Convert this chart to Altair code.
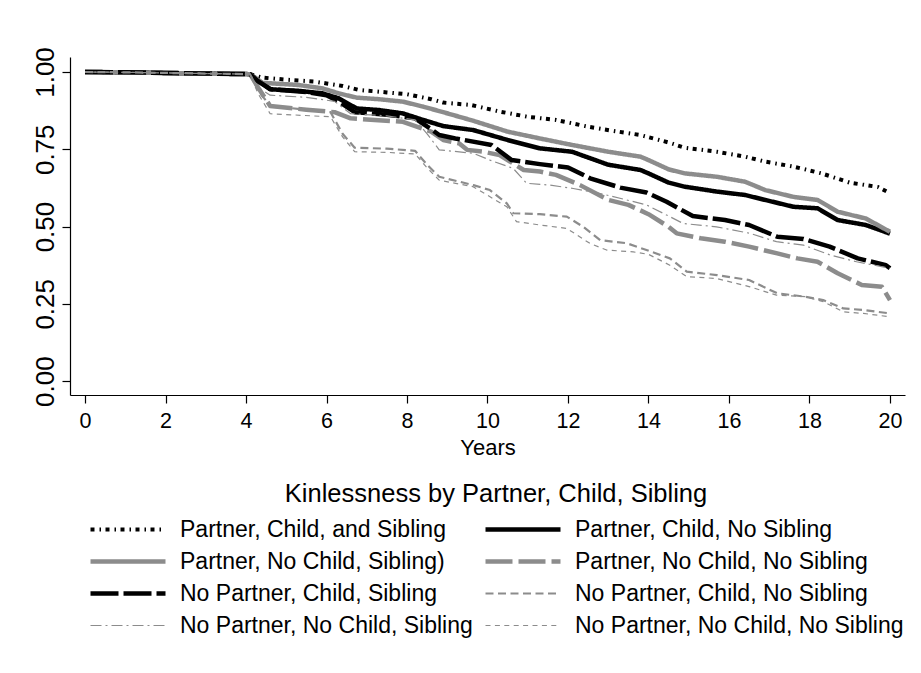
import altair as alt
import pandas as pd

FONT = "Liberation Sans"

series = [
    "Partner, Child, and Sibling",
    "Partner, Child, No Sibling",
    "Partner, No Child, Sibling)",
    "Partner, No Child, No Sibling",
    "No Partner, Child, Sibling",
    "No Partner, Child, No Sibling",
    "No Partner, No Child, Sibling",
    "No Partner, No Child, No Sibling",
]

pcs_x = [0, 1, 2, 3, 4.1, 4.4, 5.0, 5.7, 6.0, 6.4, 6.8, 7.5, 8.0, 8.3, 8.6, 8.9, 9.6, 10.3, 11.0, 11.7, 12.5, 13.1, 13.8, 14.5, 14.9, 15.7, 16.4, 16.9, 17.6, 18.3, 19.0, 19.7, 20.0]
pcs_y = [1.0, 0.999, 0.997, 0.995, 0.993, 0.982, 0.975, 0.969, 0.963, 0.955, 0.942, 0.934, 0.928, 0.920, 0.912, 0.901, 0.893, 0.872, 0.855, 0.845, 0.823, 0.810, 0.796, 0.772, 0.755, 0.742, 0.726, 0.710, 0.694, 0.672, 0.642, 0.628, 0.608]

pcns_x = [0, 1, 2, 3, 4.1, 4.3, 4.6, 5.3, 5.9, 6.3, 6.75, 7.3, 7.9, 8.4, 8.9, 9.65, 10.5, 11.3, 12.1, 13.0, 13.8, 14.0, 14.5, 14.9, 15.7, 16.4, 16.9, 17.6, 18.2, 18.7, 19.4, 20.0]
pcns_y = [1.0, 0.999, 0.997, 0.995, 0.993, 0.974, 0.944, 0.939, 0.931, 0.915, 0.882, 0.877, 0.866, 0.845, 0.825, 0.812, 0.780, 0.753, 0.742, 0.700, 0.683, 0.672, 0.642, 0.629, 0.613, 0.602, 0.586, 0.564, 0.559, 0.521, 0.505, 0.477]

pncs_x = [0, 1, 2, 3, 4.1, 4.4, 5.3, 5.9, 6.3, 6.75, 7.3, 7.9, 8.4, 8.9, 9.65, 10.5, 11.3, 12.1, 13.0, 13.8, 14.0, 14.5, 14.9, 15.7, 16.4, 16.9, 17.6, 18.2, 18.7, 19.4, 20.0]
pncs_y = [1.0, 0.999, 0.997, 0.995, 0.993, 0.965, 0.958, 0.947, 0.931, 0.917, 0.912, 0.904, 0.888, 0.870, 0.842, 0.807, 0.785, 0.764, 0.742, 0.726, 0.715, 0.685, 0.672, 0.661, 0.645, 0.618, 0.596, 0.586, 0.548, 0.526, 0.483]

pncns_x = [0, 1, 2, 3, 4.1, 4.3, 4.6, 5.5, 6.2, 6.6, 7.9, 8.6, 8.9, 9.3, 9.5, 9.9, 10.3, 10.9, 11.3, 11.7, 12.3, 13.0, 13.5, 14.0, 14.5, 14.7, 15.3, 15.9, 16.5, 17.2, 17.7, 18.2, 18.7, 19.3, 19.8, 20.0]
pncns_y = [1.0, 0.999, 0.997, 0.995, 0.993, 0.95, 0.89, 0.878, 0.87, 0.85, 0.839, 0.807, 0.78, 0.769, 0.748, 0.742, 0.731, 0.683, 0.678, 0.667, 0.634, 0.586, 0.570, 0.540, 0.499, 0.478, 0.462, 0.451, 0.435, 0.413, 0.397, 0.386, 0.349, 0.311, 0.305, 0.262]

npcs_x = [0, 1, 2, 3, 4.1, 4.3, 4.6, 5.5, 6.0, 6.3, 6.7, 7.5, 8.2, 8.6, 8.8, 9.2, 10.1, 10.6, 11.3, 12.0, 12.55, 13.3, 13.95, 14.45, 15.1, 15.9, 16.5, 17.2, 17.85, 18.5, 19.2, 19.9, 20.0]
npcs_y = [1.0, 0.999, 0.997, 0.995, 0.993, 0.97, 0.945, 0.935, 0.925, 0.905, 0.87, 0.862, 0.85, 0.815, 0.796, 0.785, 0.764, 0.715, 0.702, 0.691, 0.656, 0.626, 0.610, 0.580, 0.534, 0.521, 0.505, 0.467, 0.460, 0.435, 0.397, 0.375, 0.365]

npcns_x = [0, 1, 2, 3, 4.1, 4.3, 4.6, 5.5, 6.1, 6.4, 6.7, 7.5, 8.2, 8.5, 8.8, 9.65, 10.06, 10.48, 10.64, 11.3, 11.97, 12.38, 12.8, 13.46, 13.95, 14.53, 14.95, 15.7, 16.5, 17.2, 17.9, 18.34, 18.84, 19.34, 20.0]
npcns_y = [1.0, 0.999, 0.997, 0.995, 0.993, 0.94, 0.89, 0.878, 0.87, 0.80, 0.755, 0.752, 0.745, 0.70, 0.661, 0.634, 0.618, 0.575, 0.543, 0.540, 0.532, 0.499, 0.456, 0.446, 0.424, 0.397, 0.354, 0.343, 0.327, 0.284, 0.273, 0.262, 0.235, 0.230, 0.219]

npncs_x = [0, 1, 2, 3, 4.1, 4.3, 4.6, 5.5, 6.2, 6.6, 7.5, 8.2, 8.5, 8.8, 9.65, 10.06, 10.64, 10.97, 11.55, 12.13, 12.8, 13.46, 13.95, 14.53, 14.86, 15.69, 16.52, 17.18, 17.85, 18.51, 19.17, 20.0]
npncs_y = [1.0, 0.999, 0.997, 0.995, 0.993, 0.95, 0.925, 0.918, 0.905, 0.865, 0.858, 0.845, 0.80, 0.748, 0.737, 0.715, 0.688, 0.640, 0.634, 0.623, 0.607, 0.586, 0.570, 0.532, 0.510, 0.499, 0.478, 0.451, 0.440, 0.408, 0.386, 0.365]

npncns_x = [0, 1, 2, 3, 4.1, 4.3, 4.6, 6.1, 6.4, 6.7, 7.5, 8.2, 8.5, 8.8, 9.64, 10.48, 10.72, 11.3, 11.97, 12.55, 12.96, 13.62, 14.0, 14.53, 14.95, 15.69, 16.52, 17.18, 17.9, 18.34, 18.84, 19.34, 20.0]
npncns_y = [1.0, 0.999, 0.997, 0.995, 0.993, 0.93, 0.865, 0.855, 0.79, 0.742, 0.74, 0.735, 0.69, 0.650, 0.629, 0.564, 0.516, 0.505, 0.494, 0.445, 0.424, 0.418, 0.41, 0.375, 0.338, 0.332, 0.305, 0.278, 0.273, 0.257, 0.224, 0.219, 0.208]

x_ticks = [0, 2, 4, 6, 8, 10, 12, 14, 16, 18, 20]
y_ticks = [0, 0.25, 0.5, 0.75, 1.0]

line_colors = ["#000000", "#000000", "#8c8c8c", "#8c8c8c", "#000000", "#8c8c8c", "#8c8c8c", "#8c8c8c"]
line_widths = [4, 4.5, 4.5, 4.5, 4.5, 2.2, 1.2, 1.2]
line_dashes = [[4, 5, 1.5, 4.5], [1, 0], [1, 0], [27, 6], [28, 5], [8, 4.5], [11, 4, 2, 4], [5, 4.4]]

xs_all = [pcs_x, pcns_x, pncs_x, pncns_x, npcs_x, npcns_x, npncs_x, npncns_x]
ys_all = [pcs_y, pcns_y, pncs_y, pncns_y, npcs_y, npcns_y, npncs_y, npncns_y]

rows = []
for name, xs, ys in zip(series, xs_all, ys_all):
    for a, b in zip(xs, ys):
        rows.append({"series": name, "years": a, "surv": b})
df = pd.DataFrame(rows)

legend = alt.Legend(
    title="Kinlessness by Partner, Child, Sibling",
    orient="none", legendX=18, legendY=425, direction="horizontal",
    columns=2, columnPadding=10, rowPadding=0, clipHeight=32,
    symbolType="stroke", symbolSize=5625, labelOffset=12,
    labelFont=FONT, labelFontSize=23, labelColor="#000000", labelLimit=500,
    titleFont=FONT, titleFontSize=25.5, titleFontWeight="normal", titleColor="#000000",
    titleAnchor="middle", titlePadding=6, titleLimit=900, padding=0,
)

chart = alt.Chart(df).mark_line(strokeCap="butt", strokeJoin="round").encode(
    x=alt.X("years:Q",
            scale=alt.Scale(domain=[-0.373, 20.373], nice=False, zero=False),
            axis=alt.Axis(values=x_ticks, title="Years", labelFontSize=21.5, labelPadding=7,
                          titleFontSize=22, titleY=52, titleBaseline="middle")),
    y=alt.Y("surv:Q",
            scale=alt.Scale(domain=[-0.045, 1.0485], nice=False, zero=False),
            axis=alt.Axis(values=y_ticks, format=".2f", title=None, labelAngle=270,
                          labelAlign="center", labelBaseline="alphabetic",
                          labelFontSize=26, labelPadding=9)),
    color=alt.Color("series:N", scale=alt.Scale(domain=series, range=line_colors), legend=legend),
    strokeDash=alt.StrokeDash("series:N", scale=alt.Scale(domain=series, range=line_dashes), legend=legend),
    strokeWidth=alt.StrokeWidth("series:N", scale=alt.Scale(type="ordinal", domain=series, range=line_widths), legend=legend),
).properties(
    width=835, height=338,
    padding={"left": 62, "top": 49, "right": 8, "bottom": 270},
    autosize=alt.AutoSizeParams(type="none"),
).configure_axis(
    grid=False, domainColor="#000000", domainWidth=1.2, tickColor="#000000", tickWidth=1.2,
    tickSize=8, labelColor="#000000", titleColor="#000000", labelFont=FONT, titleFont=FONT,
    titleFontWeight="normal",
).configure_view(strokeWidth=0)

chart.save("out.html", embed_options={"renderer": "svg", "actions": False})
